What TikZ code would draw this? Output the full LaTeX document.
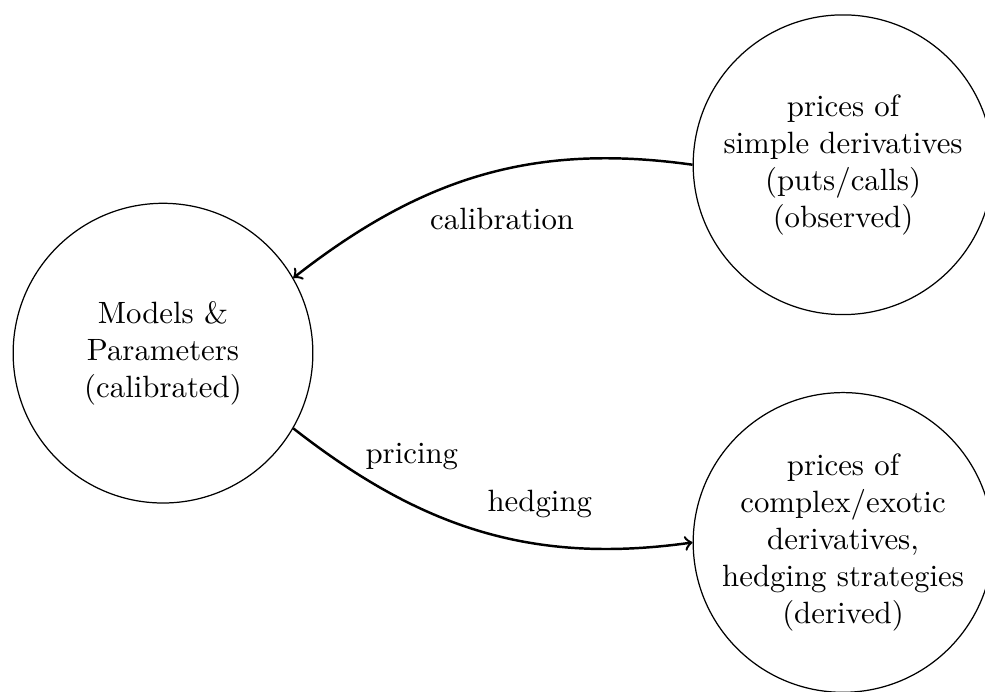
\documentclass[tikz,border=0pt]{standalone}
\begin{document}
\begin{tikzpicture}[
  bubble/.style={circle, draw, minimum size=3.42cm, inner sep=0pt},
  flow/.style={thick, ->}]
\useasboundingbox (-1.86,-3.86) rectangle (9.38,4.03);
% the three circles
\node[bubble] (model) at (0,0) {};
\node[bubble] (simple) at (7.76,2.15) {};
\node[bubble] (exotic) at (7.76,-2.16) {};
\node[align=center] (modeltext) at (model) {Models \&\\ Parameters\\ (calibrated)};
\node[align=center] (simpletext) at (simple) {prices of\\ simple derivatives\\ (puts/calls)\\ (observed)};
\node[align=center] (exotictext) at (exotic) {prices of\\ complex/exotic\\ derivatives,\\ hedging strategies\\ (derived)};
% arrows
\draw[flow] (simple.west) to[out=172,in=38] (model.30);
\draw[flow] (model.-30) to[out=-38,in=188] (exotic.west);
\node (calib) at (3.87,1.53) {calibration};
\node (pric) at (2.84,-1.18) {pricing};
\node (hedg) at (4.30,-1.72) {hedging};
\end{tikzpicture}
\end{document}
